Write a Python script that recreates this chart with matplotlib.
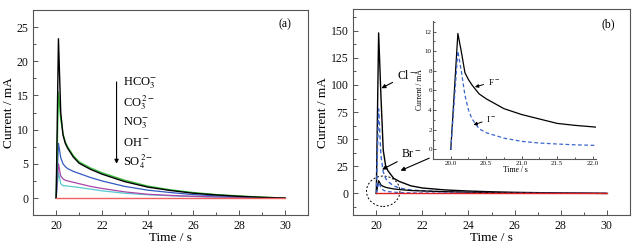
import numpy as np
import matplotlib.pyplot as plt
from matplotlib.patches import Ellipse
from matplotlib.ticker import MultipleLocator

plt.rcParams['font.family'] = ['Liberation Serif', 'DejaVu Serif']
plt.rcParams['mathtext.fontset'] = 'stix'

# time grid shared by the decay curves
t = [20.0, 20.1, 20.2, 20.3, 20.4, 20.5, 20.75, 21.0, 21.5, 22.0,
     23.0, 24.0, 25.0, 26.0, 27.0, 28.0, 29.0, 30.0]

# panel (a): anions
hco3 = [0, 23.3, 12.5, 9.2, 8.0, 7.3, 6.0, 5.1, 4.2, 3.5, 2.4, 1.6, 1.1, 0.7, 0.45, 0.25, 0.1, 0.0]
co3 = [0, 15.5, 11.5, 9.4, 8.2, 7.5, 6.2, 5.3, 4.4, 3.7, 2.6, 1.75, 1.2, 0.8, 0.5, 0.3, 0.12, 0.0]
no3 = [0, 8.0, 5.9, 5.0, 4.6, 4.3, 3.9, 3.6, 3.0, 2.5, 1.7, 1.15, 0.8, 0.5, 0.32, 0.2, 0.08, 0.0]
oh = [0, 5.0, 3.2, 2.8, 2.6, 2.5, 2.3, 2.1, 1.7, 1.4, 0.9, 0.55, 0.38, 0.25, 0.16, 0.1, 0.04, 0.0]
so4 = [0, 3.8, 2.1, 1.8, 1.78, 1.75, 1.65, 1.55, 1.3, 1.05, 0.7, 0.48, 0.33, 0.22, 0.14, 0.08, 0.03, 0.0]
t_flat = [20.0, 30.0]
flat = [0.0, 0.0]

# panel (b): halides
cl = [0, 148, 90, 40, 26, 21, 14, 11, 7, 5, 3.2, 2.2, 1.5, 1.0, 0.7, 0.4, 0.2, 0.0]
br = [0, 78, 35, 20, 14, 11, 7, 5, 3.2, 2.4, 1.5, 1.0, 0.7, 0.45, 0.3, 0.2, 0.1, 0.0]

t_fi = [20.0, 20.1, 20.15, 20.2, 20.25, 20.3, 20.4, 20.5, 20.75, 21.0, 21.25,
        21.5, 21.75, 22.0, 23.0, 24.0, 25.0, 26.0, 27.0, 28.0, 29.0, 30.0]
f_ion = [0, 11.8, 9.9, 7.8, 7.1, 6.55, 5.65, 5.15, 4.15, 3.55, 3.1,
         2.65, 2.45, 2.3, 1.6, 1.1, 0.8, 0.55, 0.35, 0.2, 0.1, 0.0]
i_ion = [0, 10.0, 7.9, 5.5, 4.0, 3.1, 2.1, 1.7, 1.15, 0.82, 0.65,
         0.55, 0.47, 0.42, 0.3, 0.22, 0.16, 0.12, 0.08, 0.05, 0.02, 0.0]

a_labels = [r'HCO$_3^{\!-}$', r'CO$_3^{\,2-}$', r'NO$_3^{\!-}$', r'OH$^-$', r'SO$_4^{\,2-}$']
a_label_y = [16.8, 13.9, 10.9, 8.1, 5.3]

spine_c = '#555555'


def style(ax, fs=8.5):
    for s in ['top', 'right']:
        ax.spines[s].set_visible(False)
    for s in ['left', 'bottom']:
        ax.spines[s].set_color(spine_c)
        ax.spines[s].set_linewidth(0.8)
    ax.tick_params(which='both', direction='in', colors=spine_c, labelcolor='#111111',
                   labelsize=fs, width=0.7)
    ax.tick_params(which='major', length=3.5)
    ax.tick_params(which='minor', length=2)


def box(ax):
    for s in ['top', 'right']:
        ax.spines[s].set_visible(True)
        ax.spines[s].set_color(spine_c)
        ax.spines[s].set_linewidth(0.8)


fig = plt.figure(figsize=(6.4, 2.45), dpi=100)

# ---------- panel (a)
ax1 = fig.add_axes([0.052, 0.122, 0.429, 0.837])
ax1.plot(t, so4, color='#55cccc', lw=0.9)
ax1.plot(t, oh, color='#aa44aa', lw=0.9)
ax1.plot(t, no3, color='#3358c0', lw=0.9)
ax1.plot(t, co3, color='#3cbf3c', lw=1.0)
ax1.plot(t, hco3, color='black', lw=1.0)
ax1.plot(t_flat, flat, color='#f06060', lw=1.0)
ax1.set_xlim(19, 31)
ax1.set_ylim(-2.5, 27.5)
ax1.xaxis.set_major_locator(MultipleLocator(2))
ax1.xaxis.set_minor_locator(MultipleLocator(1))
ax1.yaxis.set_major_locator(MultipleLocator(5))
ax1.yaxis.set_minor_locator(MultipleLocator(2.5))
style(ax1)
box(ax1)
ax1.set_xlabel('Time / s', fontsize=9.5, labelpad=0)
ax1.set_ylabel('Current / mA', fontsize=9.5, labelpad=1)
ax1.text(30, 25.4, '(a)', fontsize=8.5, ha='center', va='center')
ax1.annotate('', xy=(22.64, 4.6), xytext=(22.64, 17.4),
             arrowprops=dict(arrowstyle='-|>', color='black', lw=0.8, mutation_scale=6))
for lab, yy in zip(a_labels, a_label_y):
    ax1.text(22.92, yy, lab, fontsize=9, ha='left', va='center')

# ---------- panel (b)
ax2 = fig.add_axes([0.552, 0.122, 0.432, 0.841])
ax2.plot(t, cl, color='black', lw=1.0)
ax2.plot(t, br, color='#3a66cc', lw=1.0, ls=(0, (3, 2)))
ax2.plot(t_fi, f_ion, color='black', lw=0.9)
ax2.plot(t_fi, i_ion, color='#3a66cc', lw=0.9, ls=(0, (3, 2)))
ax2.plot(t_flat, flat, color='#e02020', lw=1.0)
ax2.set_xlim(19, 31)
ax2.set_ylim(-20, 170)
ax2.xaxis.set_major_locator(MultipleLocator(2))
ax2.xaxis.set_minor_locator(MultipleLocator(1))
ax2.yaxis.set_major_locator(MultipleLocator(25))
ax2.yaxis.set_minor_locator(MultipleLocator(12.5))
style(ax2)
box(ax2)
ax2.set_xlabel('Time / s', fontsize=9.5, labelpad=0)
ax2.set_ylabel('Current / mA', fontsize=9.5, labelpad=1)
ax2.text(30.07, 156, '(b)', fontsize=8.5, ha='center', va='center')

arr = dict(arrowstyle='-|>', color='black', lw=0.8, mutation_scale=6, shrinkA=1, shrinkB=0)
ax2.annotate(r'Cl$^-$', xy=(20.22, 97), xytext=(20.88, 109), fontsize=8.5,
             ha='left', va='center', arrowprops=arr)
ax2.annotate(r'Br$^-$', xy=(20.25, 22), xytext=(21.08, 36), fontsize=8.5,
             ha='left', va='center', arrowprops=arr)
ax2.annotate('', xy=(21.05, 21), xytext=(22.35, 33), arrowprops=arr)
ax2.add_patch(Ellipse((20.3, 2), 1.45, 28, fill=False, ec='black', lw=0.7,
                      ls=(0, (2, 2))))

# ---------- inset
ax3 = fig.add_axes([0.677, 0.350, 0.255, 0.5655])
ax3.patch.set_alpha(0)
ax3.plot(t_fi, f_ion, color='black', lw=0.9)
ax3.plot(t_fi, i_ion, color='#3a66cc', lw=0.9, ls=(0, (3, 2)))
ax3.set_xlim(19.753, 22.056)
ax3.set_ylim(-1.0, 13.1)
ax3.xaxis.set_major_locator(MultipleLocator(0.5))
ax3.xaxis.set_minor_locator(MultipleLocator(0.25))
ax3.yaxis.set_major_locator(MultipleLocator(2))
ax3.yaxis.set_minor_locator(MultipleLocator(1))
ax3.xaxis.set_major_formatter(plt.FormatStrFormatter('%.1f'))
style(ax3, fs=5)
ax3.tick_params(which='major', length=2.5, pad=1.5)
ax3.tick_params(which='minor', length=1.5)
ax3.tick_params(axis='y', which='major', pad=1)
ax3.set_xlabel('Time / s', fontsize=5.5, labelpad=0)
ax3.set_ylabel('Current / mA', fontsize=5.5)
ax3.yaxis.set_label_coords(-0.055, 0.5)
arr_s = dict(arrowstyle='-|>', color='black', lw=0.7, mutation_scale=5, shrinkA=1, shrinkB=0)
ax3.annotate(r'F$^-$', xy=(20.34, 6.35), xytext=(20.52, 6.9), fontsize=6.5,
             ha='left', va='center', arrowprops=arr_s)
ax3.annotate(r'I$^-$', xy=(20.32, 2.5), xytext=(20.5, 3.1), fontsize=6.5,
             ha='left', va='center', arrowprops=arr_s)

fig.savefig('out.png', dpi=100)
